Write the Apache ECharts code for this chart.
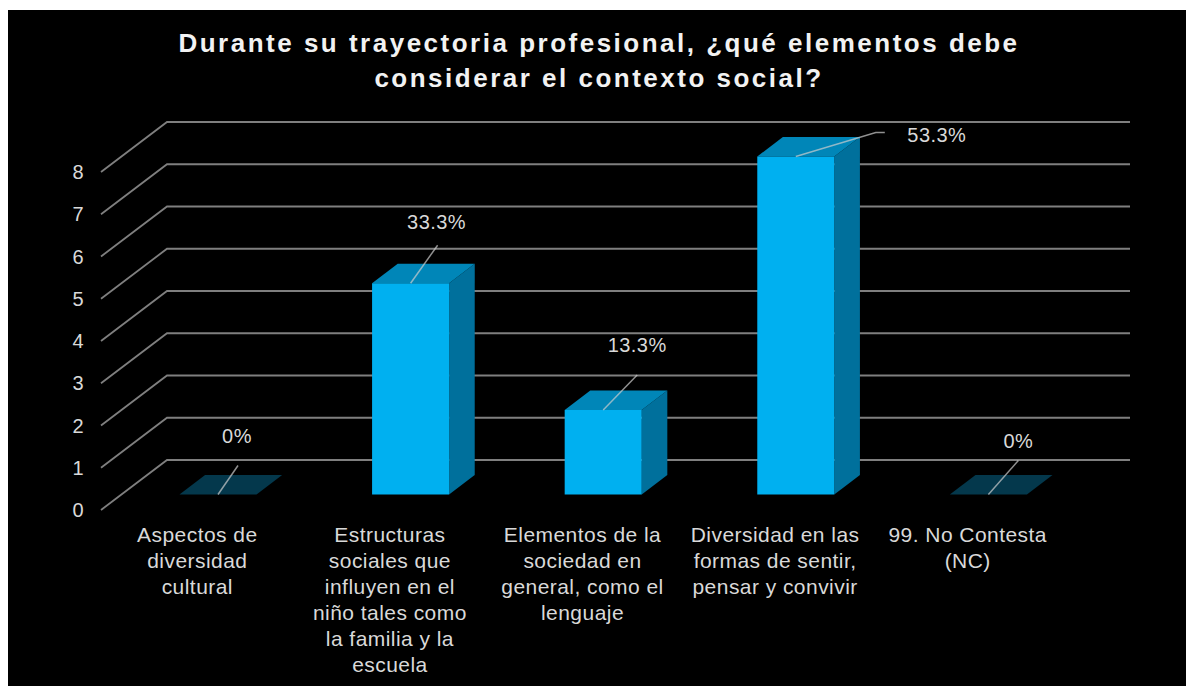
<!DOCTYPE html>
<html>
<head>
<meta charset="utf-8">
<style>
  html, body { margin: 0; padding: 0; background: #fff; overflow: hidden; }
  #panel { position: absolute; left: 8px; top: 10px; right: 0; bottom: 0; background: #000; }
  #chart { position: absolute; left: 0; top: 0; width: 1186px; height: 686px; }
  #chart text { letter-spacing: 0.45px; }
  #chart text[style*="bold"] { letter-spacing: 2.5px; }
</style>
<script src="https://cdn.jsdelivr.net/npm/echarts@6/dist/echarts.min.js"></script>
</head>
<body>
<div id="panel"></div>
<div id="chart"></div>
<script>
const titleText = 'Durante su trayectoria profesional, ¿qué elementos debe\nconsiderar el contexto social?';
const categories = [
  'Aspectos de\ndiversidad\ncultural',
  'Estructuras\nsociales que\ninfluyen en el\nniño tales como\nla familia y la\nescuela',
  'Elementos de la\nsociedad en\ngeneral, como el\nlenguaje',
  'Diversidad en las\nformas de sentir,\npensar y convivir',
  '99. No Contesta\n(NC)'
];
const counts = [0, 5, 2, 8, 0];
const percents = ['0%', '33.3%', '13.3%', '53.3%', '0%'];
const valueTicks = [0, 1, 2, 3, 4, 5, 6, 7, 8];

// fake 3d: how far the wall sits behind the front plane, and where the bars stand
const WALL = [66, -50];
const BAR_START = [20.7, -15.5];
const BAR_DEPTH = [25.6, -19.6];
const BAR_WIDTH = 0.4;

// leader line bends and label position, relative to the top middle of each bar
const leaders = [
  { line: [[20, -29]], text: [19, -59] },
  { line: [[27, -38]], text: [26, -61] },
  { line: [[34, -35]], text: [34, -65] },
  { line: [[80, -24], [89, -24]], text: [141, -22] },
  { line: [[30, -34]], text: [30, -54] }
];

const chart = echarts.init(document.getElementById('chart'), null, { renderer: 'svg' });

function renderWall(params, api) {
  const y = api.coord([0, api.value(1)])[1];
  const x = params.coordSys.x;
  const w = params.coordSys.width;
  return {
    type: 'polyline',
    shape: { points: [[x, y], [x + WALL[0], y + WALL[1]], [x + WALL[0] + w, y + WALL[1]]] },
    style: { fill: 'none', stroke: '#7f7f7f', lineWidth: 1.8 }
  };
}

function renderBar(params, api) {
  const i = api.value(0);
  const val = api.value(1);
  const top = api.coord([i, val]);
  const base = api.coord([i, 0]);
  const half = api.size([1, 0])[0] * BAR_WIDTH / 2;
  const l = top[0] + BAR_START[0] - half;
  const r = top[0] + BAR_START[0] + half;
  const t = top[1] + BAR_START[1];
  const b = base[1] + BAR_START[1];
  const dx = BAR_DEPTH[0];
  const dy = BAR_DEPTH[1];
  const children = [];
  if (val > 0) {
    children.push({ type: 'polygon', shape: { points: [[r, t], [r + dx, t + dy], [r + dx, b + dy], [r, b]] }, style: { fill: '#00709c' } });
    children.push({ type: 'polygon', shape: { points: [[l, t], [l + dx, t + dy], [r + dx, t + dy], [r, t]] }, style: { fill: '#0086b8' } });
    children.push({ type: 'rect', shape: { x: l, y: t, width: r - l, height: b - t }, style: { fill: '#00b0f0' } });
  } else {
    children.push({ type: 'polygon', shape: { points: [[l, t], [l + dx, t + dy], [r + dx, t + dy], [r, t]] }, style: { fill: '#04384c' } });
  }
  // leader line and the percentage
  const ax = (l + r) / 2;
  const leader = leaders[params.dataIndex];
  const pts = [[ax, t]].concat(leader.line.map(p => [ax + p[0], t + p[1]]));
  children.push({ type: 'polyline', shape: { points: pts }, style: { fill: 'none', stroke: 'rgba(205,205,205,0.7)', lineWidth: 1.5 } });
  children.push({
    type: 'text',
    style: {
      text: percents[params.dataIndex],
      x: ax + leader.text[0],
      y: t + leader.text[1],
      align: 'center',
      verticalAlign: 'middle',
      fill: '#d9d9d9',
      font: '20px "Liberation Sans", Arial, sans-serif'
    }
  });
  return { type: 'group', children: children };
}

chart.setOption({
  animation: false,
  backgroundColor: 'transparent',
  title: {
    text: titleText,
    left: 594,
    top: 20,
    textAlign: 'center',
    textStyle: {
      color: '#f2f2f2',
      fontFamily: '"Liberation Sans", Arial, sans-serif',
      fontSize: 26,
      fontWeight: 'bold',
      lineHeight: 35
    }
  },
  grid: { left: 101, top: 172, width: 963, height: 338 },
  xAxis: {
    type: 'category',
    data: categories,
    axisLine: { show: false },
    axisTick: { show: false },
    axisLabel: {
      interval: 0,
      margin: 11,
      color: '#d9d9d9',
      fontFamily: '"Liberation Sans", Arial, sans-serif',
      fontSize: 21,
      lineHeight: 26
    }
  },
  yAxis: {
    type: 'value',
    min: 0,
    max: 8,
    interval: 1,
    axisLine: { show: false },
    axisTick: { show: false },
    splitLine: { show: false },
    axisLabel: {
      margin: 17,
      padding: [0, 0, 3, 0],
      color: '#d9d9d9',
      fontFamily: '"Liberation Sans", Arial, sans-serif',
      fontSize: 20
    }
  },
  series: [
    {
      type: 'custom',
      renderItem: renderWall,
      clip: false,
      silent: true,
      z: 1,
      data: valueTicks.map(v => [0, v])
    },
    {
      type: 'custom',
      renderItem: renderBar,
      clip: false,
      z: 2,
      data: counts.map((c, i) => [i, c])
    }
  ]
});
</script>
</body>
</html>
